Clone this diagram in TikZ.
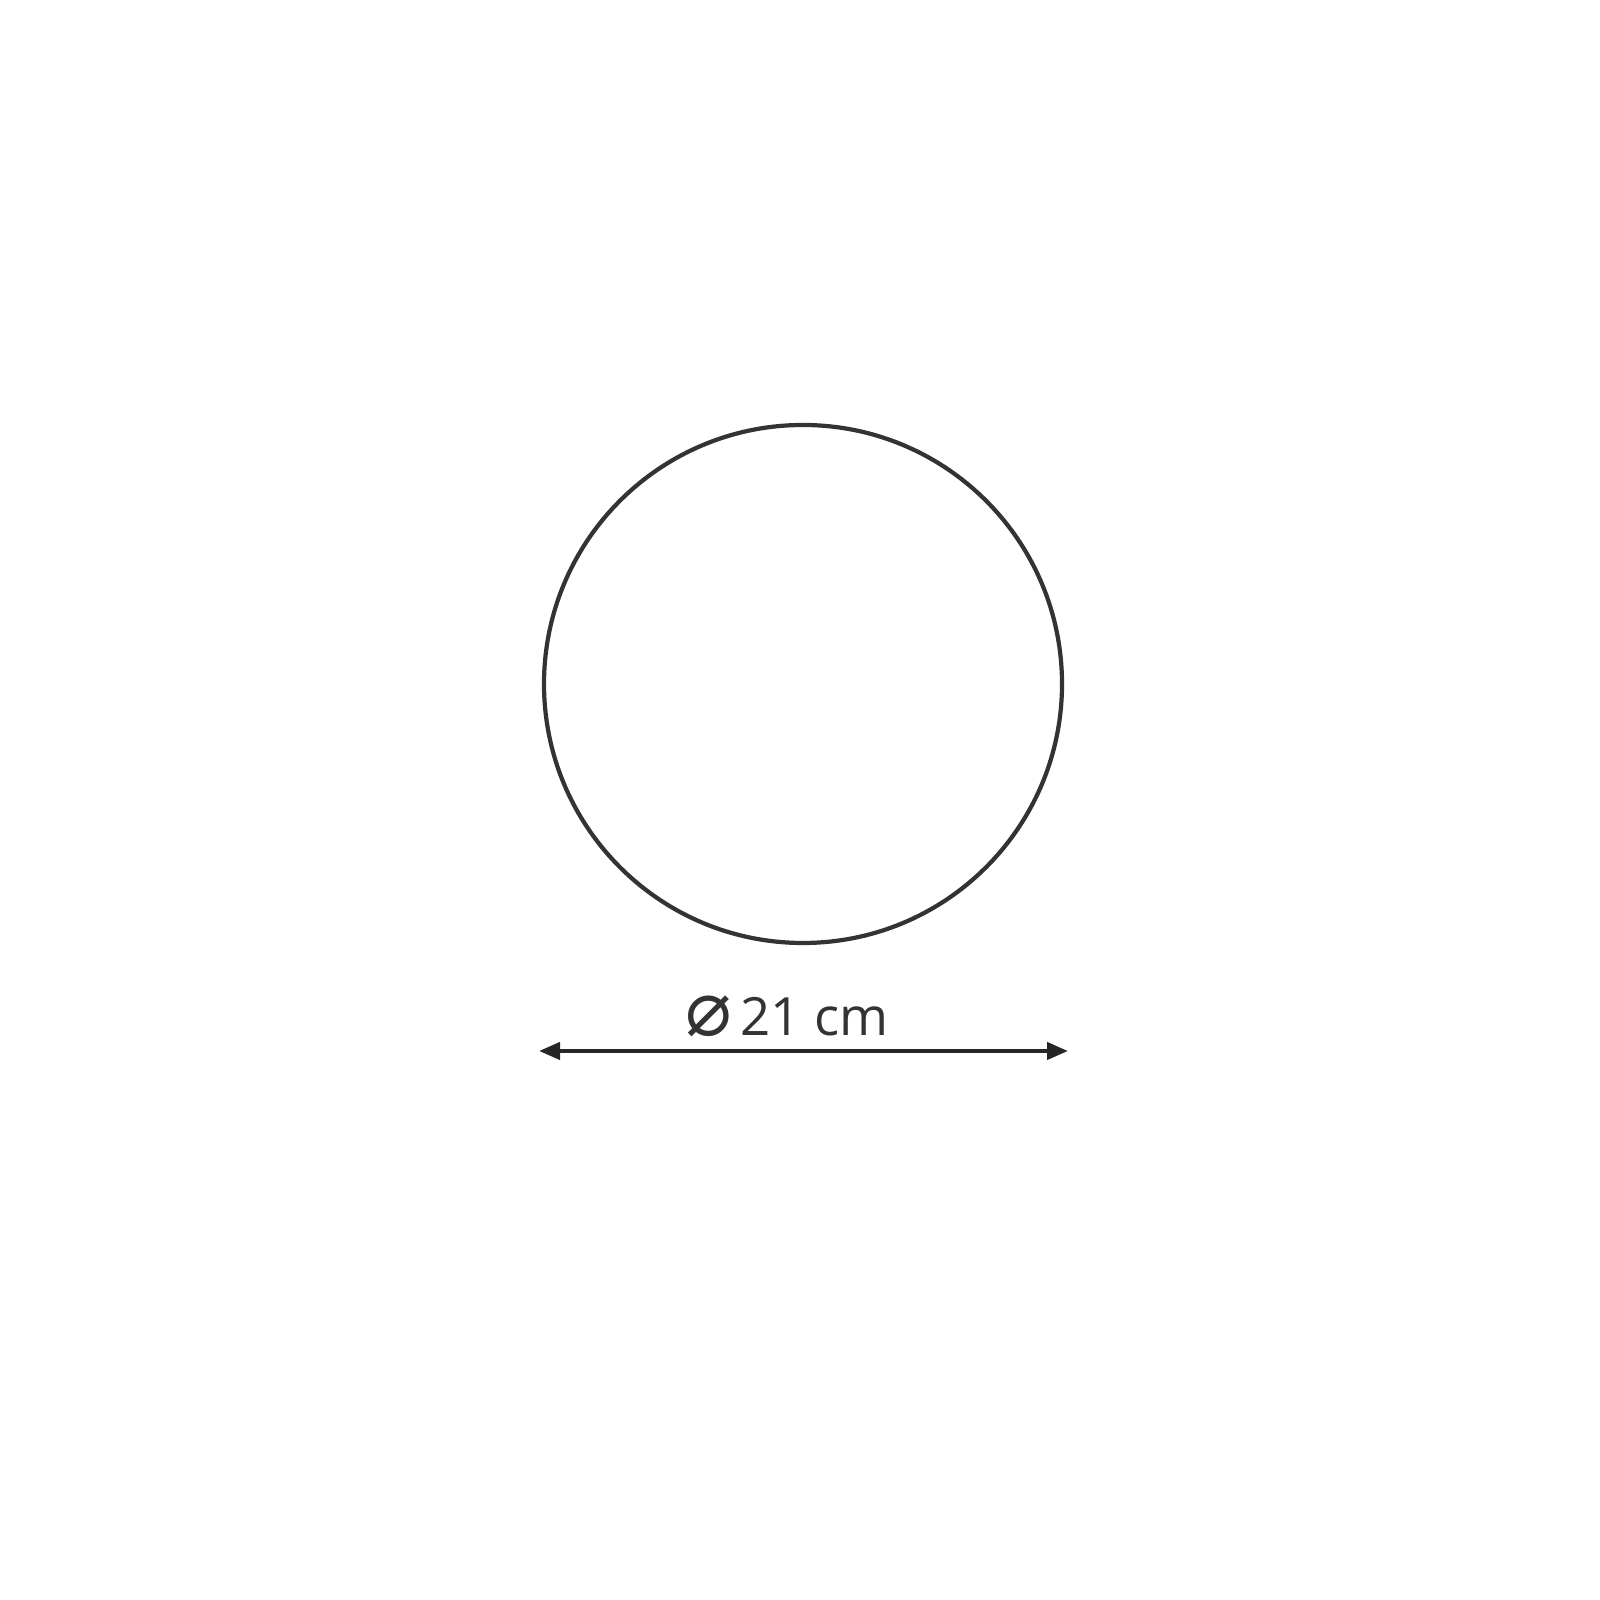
\documentclass[tikz,border=0pt]{standalone}
\usepackage{fontspec}
\setmainfont{Open Sans}
\newfontfamily\symfont{DejaVu Sans}
\usetikzlibrary{positioning,arrows.meta}

\begin{document}
\begin{tikzpicture}[>={Triangle[length=0.21cm,width=0.17cm]}, line width=1.2pt]
    \useasboundingbox (0,0) rectangle (16,16);

    \node[draw=black!80, circle, minimum size=5.18cm, inner sep=0pt] (lamp) at (8.03,9.16) {};

    \coordinate (l) at (5.39,5.49);
    \coordinate (r) at (10.68,5.49);
    \draw[<->, black!85] (l)--(r);
    \node[anchor=base, text=black!80, font=\fontsize{15}{17}\selectfont] (dim) at (7.87,5.64) {{\symfont\fontsize{22}{17}\selectfont ⌀}\,21 cm};
\end{tikzpicture}
\end{document}
